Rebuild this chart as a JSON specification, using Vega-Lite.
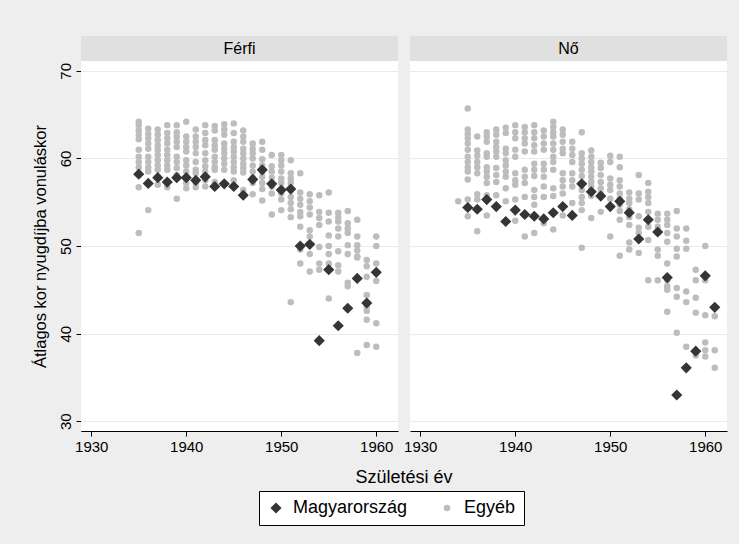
{
"$schema": "https://vega.github.io/schema/vega-lite/v6.json",
"background": "#eeeeee",
"padding": {"left": 32, "top": 36, "right": 12, "bottom": 18},
"config": {"font": "Liberation Sans", "view": {"stroke": null}},
"datasets": {
"hdr": [{"sex": "Férfi"}, {"sex": "Nő"}],
"pts": [
{"sex":"Férfi","group":"Egyéb","year":1935,"age":64.2},{"sex":"Férfi","group":"Egyéb","year":1935,"age":63.8},{"sex":"Férfi","group":"Egyéb","year":1935,"age":63.2},{"sex":"Férfi","group":"Egyéb","year":1935,"age":62.7},{"sex":"Férfi","group":"Egyéb","year":1935,"age":62.2},{"sex":"Férfi","group":"Egyéb","year":1935,"age":61.0},{"sex":"Férfi","group":"Egyéb","year":1935,"age":60.2},{"sex":"Férfi","group":"Egyéb","year":1935,"age":59.6},{"sex":"Férfi","group":"Egyéb","year":1935,"age":59.0},{"sex":"Férfi","group":"Egyéb","year":1935,"age":56.7},{"sex":"Férfi","group":"Egyéb","year":1935,"age":51.5},
{"sex":"Férfi","group":"Egyéb","year":1936,"age":63.4},{"sex":"Férfi","group":"Egyéb","year":1936,"age":62.8},{"sex":"Férfi","group":"Egyéb","year":1936,"age":62.3},{"sex":"Férfi","group":"Egyéb","year":1936,"age":61.7},{"sex":"Férfi","group":"Egyéb","year":1936,"age":61.1},{"sex":"Férfi","group":"Egyéb","year":1936,"age":60.2},{"sex":"Férfi","group":"Egyéb","year":1936,"age":59.6},{"sex":"Férfi","group":"Egyéb","year":1936,"age":59.0},{"sex":"Férfi","group":"Egyéb","year":1936,"age":58.5},{"sex":"Férfi","group":"Egyéb","year":1936,"age":54.1},
{"sex":"Férfi","group":"Egyéb","year":1937,"age":63.3},{"sex":"Férfi","group":"Egyéb","year":1937,"age":62.7},{"sex":"Férfi","group":"Egyéb","year":1937,"age":62.1},{"sex":"Férfi","group":"Egyéb","year":1937,"age":61.5},{"sex":"Férfi","group":"Egyéb","year":1937,"age":61.0},{"sex":"Férfi","group":"Egyéb","year":1937,"age":60.4},{"sex":"Férfi","group":"Egyéb","year":1937,"age":59.8},{"sex":"Férfi","group":"Egyéb","year":1937,"age":59.2},{"sex":"Férfi","group":"Egyéb","year":1937,"age":58.7},{"sex":"Férfi","group":"Egyéb","year":1937,"age":57.0},
{"sex":"Férfi","group":"Egyéb","year":1938,"age":63.8},{"sex":"Férfi","group":"Egyéb","year":1938,"age":62.9},{"sex":"Férfi","group":"Egyéb","year":1938,"age":62.3},{"sex":"Férfi","group":"Egyéb","year":1938,"age":61.7},{"sex":"Férfi","group":"Egyéb","year":1938,"age":61.0},{"sex":"Férfi","group":"Egyéb","year":1938,"age":60.4},{"sex":"Férfi","group":"Egyéb","year":1938,"age":59.8},{"sex":"Férfi","group":"Egyéb","year":1938,"age":59.2},{"sex":"Férfi","group":"Egyéb","year":1938,"age":58.7},{"sex":"Férfi","group":"Egyéb","year":1938,"age":56.7},
{"sex":"Férfi","group":"Egyéb","year":1939,"age":63.8},{"sex":"Férfi","group":"Egyéb","year":1939,"age":63.0},{"sex":"Férfi","group":"Egyéb","year":1939,"age":62.5},{"sex":"Férfi","group":"Egyéb","year":1939,"age":61.9},{"sex":"Férfi","group":"Egyéb","year":1939,"age":61.3},{"sex":"Férfi","group":"Egyéb","year":1939,"age":60.2},{"sex":"Férfi","group":"Egyéb","year":1939,"age":59.6},{"sex":"Férfi","group":"Egyéb","year":1939,"age":58.9},{"sex":"Férfi","group":"Egyéb","year":1939,"age":58.1},{"sex":"Férfi","group":"Egyéb","year":1939,"age":55.4},
{"sex":"Férfi","group":"Egyéb","year":1940,"age":64.2},{"sex":"Férfi","group":"Egyéb","year":1940,"age":62.5},{"sex":"Férfi","group":"Egyéb","year":1940,"age":61.9},{"sex":"Férfi","group":"Egyéb","year":1940,"age":61.3},{"sex":"Férfi","group":"Egyéb","year":1940,"age":60.8},{"sex":"Férfi","group":"Egyéb","year":1940,"age":59.8},{"sex":"Férfi","group":"Egyéb","year":1940,"age":59.2},{"sex":"Férfi","group":"Egyéb","year":1940,"age":58.5},{"sex":"Férfi","group":"Egyéb","year":1940,"age":57.2},{"sex":"Férfi","group":"Egyéb","year":1940,"age":56.6},
{"sex":"Férfi","group":"Egyéb","year":1941,"age":63.3},{"sex":"Férfi","group":"Egyéb","year":1941,"age":62.5},{"sex":"Férfi","group":"Egyéb","year":1941,"age":61.9},{"sex":"Férfi","group":"Egyéb","year":1941,"age":61.3},{"sex":"Férfi","group":"Egyéb","year":1941,"age":60.6},{"sex":"Férfi","group":"Egyéb","year":1941,"age":59.6},{"sex":"Férfi","group":"Egyéb","year":1941,"age":58.7},{"sex":"Férfi","group":"Egyéb","year":1941,"age":58.3},{"sex":"Férfi","group":"Egyéb","year":1941,"age":57.2},{"sex":"Férfi","group":"Egyéb","year":1941,"age":56.7},
{"sex":"Férfi","group":"Egyéb","year":1942,"age":63.8},{"sex":"Férfi","group":"Egyéb","year":1942,"age":62.9},{"sex":"Férfi","group":"Egyéb","year":1942,"age":62.1},{"sex":"Férfi","group":"Egyéb","year":1942,"age":61.5},{"sex":"Férfi","group":"Egyéb","year":1942,"age":60.6},{"sex":"Férfi","group":"Egyéb","year":1942,"age":59.8},{"sex":"Férfi","group":"Egyéb","year":1942,"age":59.1},{"sex":"Férfi","group":"Egyéb","year":1942,"age":58.5},{"sex":"Férfi","group":"Egyéb","year":1942,"age":57.5},{"sex":"Férfi","group":"Egyéb","year":1942,"age":56.8},
{"sex":"Férfi","group":"Egyéb","year":1943,"age":63.7},{"sex":"Férfi","group":"Egyéb","year":1943,"age":63.2},{"sex":"Férfi","group":"Egyéb","year":1943,"age":62.1},{"sex":"Férfi","group":"Egyéb","year":1943,"age":61.5},{"sex":"Férfi","group":"Egyéb","year":1943,"age":61.0},{"sex":"Férfi","group":"Egyéb","year":1943,"age":60.2},{"sex":"Férfi","group":"Egyéb","year":1943,"age":59.6},{"sex":"Férfi","group":"Egyéb","year":1943,"age":59.0},{"sex":"Férfi","group":"Egyéb","year":1943,"age":58.7},{"sex":"Férfi","group":"Egyéb","year":1943,"age":57.3},
{"sex":"Férfi","group":"Egyéb","year":1944,"age":63.9},{"sex":"Férfi","group":"Egyéb","year":1944,"age":63.3},{"sex":"Férfi","group":"Egyéb","year":1944,"age":62.7},{"sex":"Férfi","group":"Egyéb","year":1944,"age":61.7},{"sex":"Férfi","group":"Egyéb","year":1944,"age":61.1},{"sex":"Férfi","group":"Egyéb","year":1944,"age":60.6},{"sex":"Férfi","group":"Egyéb","year":1944,"age":60.0},{"sex":"Férfi","group":"Egyéb","year":1944,"age":59.4},{"sex":"Férfi","group":"Egyéb","year":1944,"age":58.7},
{"sex":"Férfi","group":"Egyéb","year":1945,"age":64.0},{"sex":"Férfi","group":"Egyéb","year":1945,"age":62.9},{"sex":"Férfi","group":"Egyéb","year":1945,"age":61.9},{"sex":"Férfi","group":"Egyéb","year":1945,"age":61.3},{"sex":"Férfi","group":"Egyéb","year":1945,"age":60.8},{"sex":"Férfi","group":"Egyéb","year":1945,"age":60.2},{"sex":"Férfi","group":"Egyéb","year":1945,"age":59.6},{"sex":"Férfi","group":"Egyéb","year":1945,"age":59.0},{"sex":"Férfi","group":"Egyéb","year":1945,"age":58.5},{"sex":"Férfi","group":"Egyéb","year":1945,"age":57.5},
{"sex":"Férfi","group":"Egyéb","year":1946,"age":63.2},{"sex":"Férfi","group":"Egyéb","year":1946,"age":62.5},{"sex":"Férfi","group":"Egyéb","year":1946,"age":61.9},{"sex":"Férfi","group":"Egyéb","year":1946,"age":61.1},{"sex":"Férfi","group":"Egyéb","year":1946,"age":60.6},{"sex":"Férfi","group":"Egyéb","year":1946,"age":60.0},{"sex":"Férfi","group":"Egyéb","year":1946,"age":59.4},{"sex":"Férfi","group":"Egyéb","year":1946,"age":58.9},{"sex":"Férfi","group":"Egyéb","year":1946,"age":58.4},{"sex":"Férfi","group":"Egyéb","year":1946,"age":56.4},
{"sex":"Férfi","group":"Egyéb","year":1947,"age":61.7},{"sex":"Férfi","group":"Egyéb","year":1947,"age":61.1},{"sex":"Férfi","group":"Egyéb","year":1947,"age":60.6},{"sex":"Férfi","group":"Egyéb","year":1947,"age":60.0},{"sex":"Férfi","group":"Egyéb","year":1947,"age":59.2},{"sex":"Férfi","group":"Egyéb","year":1947,"age":58.5},{"sex":"Férfi","group":"Egyéb","year":1947,"age":57.8},{"sex":"Férfi","group":"Egyéb","year":1947,"age":57.2},{"sex":"Férfi","group":"Egyéb","year":1947,"age":55.9},
{"sex":"Férfi","group":"Egyéb","year":1948,"age":61.9},{"sex":"Férfi","group":"Egyéb","year":1948,"age":61.0},{"sex":"Férfi","group":"Egyéb","year":1948,"age":59.9},{"sex":"Férfi","group":"Egyéb","year":1948,"age":59.2},{"sex":"Férfi","group":"Egyéb","year":1948,"age":58.5},{"sex":"Férfi","group":"Egyéb","year":1948,"age":57.9},{"sex":"Férfi","group":"Egyéb","year":1948,"age":57.2},{"sex":"Férfi","group":"Egyéb","year":1948,"age":56.5},{"sex":"Férfi","group":"Egyéb","year":1948,"age":55.2},
{"sex":"Férfi","group":"Egyéb","year":1949,"age":60.4},{"sex":"Férfi","group":"Egyéb","year":1949,"age":59.1},{"sex":"Férfi","group":"Egyéb","year":1949,"age":58.5},{"sex":"Férfi","group":"Egyéb","year":1949,"age":57.8},{"sex":"Férfi","group":"Egyéb","year":1949,"age":56.8},{"sex":"Férfi","group":"Egyéb","year":1949,"age":56.0},{"sex":"Férfi","group":"Egyéb","year":1949,"age":53.6},
{"sex":"Férfi","group":"Egyéb","year":1950,"age":60.4},{"sex":"Férfi","group":"Egyéb","year":1950,"age":59.8},{"sex":"Férfi","group":"Egyéb","year":1950,"age":59.2},{"sex":"Férfi","group":"Egyéb","year":1950,"age":58.5},{"sex":"Férfi","group":"Egyéb","year":1950,"age":57.7},{"sex":"Férfi","group":"Egyéb","year":1950,"age":57.2},{"sex":"Férfi","group":"Egyéb","year":1950,"age":56.0},{"sex":"Férfi","group":"Egyéb","year":1950,"age":55.3},{"sex":"Férfi","group":"Egyéb","year":1950,"age":54.1},
{"sex":"Férfi","group":"Egyéb","year":1951,"age":59.8},{"sex":"Férfi","group":"Egyéb","year":1951,"age":58.3},{"sex":"Férfi","group":"Egyéb","year":1951,"age":57.7},{"sex":"Férfi","group":"Egyéb","year":1951,"age":57.2},{"sex":"Férfi","group":"Egyéb","year":1951,"age":56.4},{"sex":"Férfi","group":"Egyéb","year":1951,"age":55.6},{"sex":"Férfi","group":"Egyéb","year":1951,"age":54.9},{"sex":"Férfi","group":"Egyéb","year":1951,"age":54.2},{"sex":"Férfi","group":"Egyéb","year":1951,"age":53.3},{"sex":"Férfi","group":"Egyéb","year":1951,"age":43.6},
{"sex":"Férfi","group":"Egyéb","year":1952,"age":58.3},{"sex":"Férfi","group":"Egyéb","year":1952,"age":56.1},{"sex":"Férfi","group":"Egyéb","year":1952,"age":55.4},{"sex":"Férfi","group":"Egyéb","year":1952,"age":54.7},{"sex":"Férfi","group":"Egyéb","year":1952,"age":53.9},{"sex":"Férfi","group":"Egyéb","year":1952,"age":53.4},{"sex":"Férfi","group":"Egyéb","year":1952,"age":52.2},{"sex":"Férfi","group":"Egyéb","year":1952,"age":49.6},{"sex":"Férfi","group":"Egyéb","year":1952,"age":48.0},
{"sex":"Férfi","group":"Egyéb","year":1953,"age":55.9},{"sex":"Férfi","group":"Egyéb","year":1953,"age":55.1},{"sex":"Férfi","group":"Egyéb","year":1953,"age":54.4},{"sex":"Férfi","group":"Egyéb","year":1953,"age":53.6},{"sex":"Férfi","group":"Egyéb","year":1953,"age":51.8},{"sex":"Férfi","group":"Egyéb","year":1953,"age":51.1},{"sex":"Férfi","group":"Egyéb","year":1953,"age":49.1},{"sex":"Férfi","group":"Egyéb","year":1953,"age":47.1},
{"sex":"Férfi","group":"Egyéb","year":1954,"age":55.8},{"sex":"Férfi","group":"Egyéb","year":1954,"age":53.9},{"sex":"Férfi","group":"Egyéb","year":1954,"age":53.2},{"sex":"Férfi","group":"Egyéb","year":1954,"age":52.4},{"sex":"Férfi","group":"Egyéb","year":1954,"age":49.9},{"sex":"Férfi","group":"Egyéb","year":1954,"age":48.0},{"sex":"Férfi","group":"Egyéb","year":1954,"age":47.3},
{"sex":"Férfi","group":"Egyéb","year":1955,"age":56.1},{"sex":"Férfi","group":"Egyéb","year":1955,"age":53.8},{"sex":"Férfi","group":"Egyéb","year":1955,"age":52.8},{"sex":"Férfi","group":"Egyéb","year":1955,"age":51.2},{"sex":"Férfi","group":"Egyéb","year":1955,"age":50.0},{"sex":"Férfi","group":"Egyéb","year":1955,"age":49.1},{"sex":"Férfi","group":"Egyéb","year":1955,"age":48.0},{"sex":"Férfi","group":"Egyéb","year":1955,"age":44.0},
{"sex":"Férfi","group":"Egyéb","year":1956,"age":53.8},{"sex":"Férfi","group":"Egyéb","year":1956,"age":53.3},{"sex":"Férfi","group":"Egyéb","year":1956,"age":52.8},{"sex":"Férfi","group":"Egyéb","year":1956,"age":52.0},{"sex":"Férfi","group":"Egyéb","year":1956,"age":51.1},{"sex":"Férfi","group":"Egyéb","year":1956,"age":49.4},{"sex":"Férfi","group":"Egyéb","year":1956,"age":47.8},{"sex":"Férfi","group":"Egyéb","year":1956,"age":47.1},
{"sex":"Férfi","group":"Egyéb","year":1957,"age":54.0},{"sex":"Férfi","group":"Egyéb","year":1957,"age":52.6},{"sex":"Férfi","group":"Egyéb","year":1957,"age":52.0},{"sex":"Férfi","group":"Egyéb","year":1957,"age":51.5},{"sex":"Férfi","group":"Egyéb","year":1957,"age":50.1},{"sex":"Férfi","group":"Egyéb","year":1957,"age":49.1},{"sex":"Férfi","group":"Egyéb","year":1957,"age":45.8},{"sex":"Férfi","group":"Egyéb","year":1957,"age":45.4},
{"sex":"Férfi","group":"Egyéb","year":1958,"age":53.0},{"sex":"Férfi","group":"Egyéb","year":1958,"age":51.1},{"sex":"Férfi","group":"Egyéb","year":1958,"age":50.1},{"sex":"Férfi","group":"Egyéb","year":1958,"age":49.5},{"sex":"Férfi","group":"Egyéb","year":1958,"age":48.8},{"sex":"Férfi","group":"Egyéb","year":1958,"age":48.7},{"sex":"Férfi","group":"Egyéb","year":1958,"age":46.3},{"sex":"Férfi","group":"Egyéb","year":1958,"age":37.8},
{"sex":"Férfi","group":"Egyéb","year":1959,"age":48.4},{"sex":"Férfi","group":"Egyéb","year":1959,"age":47.7},{"sex":"Férfi","group":"Egyéb","year":1959,"age":46.5},{"sex":"Férfi","group":"Egyéb","year":1959,"age":44.4},{"sex":"Férfi","group":"Egyéb","year":1959,"age":43.1},{"sex":"Férfi","group":"Egyéb","year":1959,"age":42.6},{"sex":"Férfi","group":"Egyéb","year":1959,"age":41.6},{"sex":"Férfi","group":"Egyéb","year":1959,"age":38.7},
{"sex":"Férfi","group":"Egyéb","year":1960,"age":51.1},{"sex":"Férfi","group":"Egyéb","year":1960,"age":50.0},{"sex":"Férfi","group":"Egyéb","year":1960,"age":48.0},{"sex":"Férfi","group":"Egyéb","year":1960,"age":46.0},{"sex":"Férfi","group":"Egyéb","year":1960,"age":41.2},{"sex":"Férfi","group":"Egyéb","year":1960,"age":38.5},
{"sex":"Nő","group":"Egyéb","year":1934,"age":55.1},
{"sex":"Nő","group":"Egyéb","year":1935,"age":65.7},{"sex":"Nő","group":"Egyéb","year":1935,"age":63.3},{"sex":"Nő","group":"Egyéb","year":1935,"age":62.8},{"sex":"Nő","group":"Egyéb","year":1935,"age":62.3},{"sex":"Nő","group":"Egyéb","year":1935,"age":61.7},{"sex":"Nő","group":"Egyéb","year":1935,"age":61.0},{"sex":"Nő","group":"Egyéb","year":1935,"age":60.2},{"sex":"Nő","group":"Egyéb","year":1935,"age":59.6},{"sex":"Nő","group":"Egyéb","year":1935,"age":59.0},{"sex":"Nő","group":"Egyéb","year":1935,"age":58.5},{"sex":"Nő","group":"Egyéb","year":1935,"age":57.6},{"sex":"Nő","group":"Egyéb","year":1935,"age":55.3},{"sex":"Nő","group":"Egyéb","year":1935,"age":53.4},
{"sex":"Nő","group":"Egyéb","year":1936,"age":62.5},{"sex":"Nő","group":"Egyéb","year":1936,"age":60.9},{"sex":"Nő","group":"Egyéb","year":1936,"age":60.3},{"sex":"Nő","group":"Egyéb","year":1936,"age":59.6},{"sex":"Nő","group":"Egyéb","year":1936,"age":59.0},{"sex":"Nő","group":"Egyéb","year":1936,"age":58.3},{"sex":"Nő","group":"Egyéb","year":1936,"age":55.9},{"sex":"Nő","group":"Egyéb","year":1936,"age":55.3},{"sex":"Nő","group":"Egyéb","year":1936,"age":51.7},
{"sex":"Nő","group":"Egyéb","year":1937,"age":63.0},{"sex":"Nő","group":"Egyéb","year":1937,"age":62.5},{"sex":"Nő","group":"Egyéb","year":1937,"age":61.9},{"sex":"Nő","group":"Egyéb","year":1937,"age":60.6},{"sex":"Nő","group":"Egyéb","year":1937,"age":60.2},{"sex":"Nő","group":"Egyéb","year":1937,"age":59.0},{"sex":"Nő","group":"Egyéb","year":1937,"age":58.5},{"sex":"Nő","group":"Egyéb","year":1937,"age":57.9},{"sex":"Nő","group":"Egyéb","year":1937,"age":57.2},{"sex":"Nő","group":"Egyéb","year":1937,"age":55.8},{"sex":"Nő","group":"Egyéb","year":1937,"age":53.5},
{"sex":"Nő","group":"Egyéb","year":1938,"age":63.3},{"sex":"Nő","group":"Egyéb","year":1938,"age":62.7},{"sex":"Nő","group":"Egyéb","year":1938,"age":61.9},{"sex":"Nő","group":"Egyéb","year":1938,"age":61.3},{"sex":"Nő","group":"Egyéb","year":1938,"age":60.8},{"sex":"Nő","group":"Egyéb","year":1938,"age":60.2},{"sex":"Nő","group":"Egyéb","year":1938,"age":58.9},{"sex":"Nő","group":"Egyéb","year":1938,"age":58.1},{"sex":"Nő","group":"Egyéb","year":1938,"age":57.3},{"sex":"Nő","group":"Egyéb","year":1938,"age":55.8},
{"sex":"Nő","group":"Egyéb","year":1939,"age":63.5},{"sex":"Nő","group":"Egyéb","year":1939,"age":62.9},{"sex":"Nő","group":"Egyéb","year":1939,"age":61.1},{"sex":"Nő","group":"Egyéb","year":1939,"age":60.6},{"sex":"Nő","group":"Egyéb","year":1939,"age":59.8},{"sex":"Nő","group":"Egyéb","year":1939,"age":59.2},{"sex":"Nő","group":"Egyéb","year":1939,"age":58.5},{"sex":"Nő","group":"Egyéb","year":1939,"age":57.9},{"sex":"Nő","group":"Egyéb","year":1939,"age":56.6},{"sex":"Nő","group":"Egyéb","year":1939,"age":55.1},
{"sex":"Nő","group":"Egyéb","year":1940,"age":63.8},{"sex":"Nő","group":"Egyéb","year":1940,"age":63.0},{"sex":"Nő","group":"Egyéb","year":1940,"age":62.3},{"sex":"Nő","group":"Egyéb","year":1940,"age":61.0},{"sex":"Nő","group":"Egyéb","year":1940,"age":60.2},{"sex":"Nő","group":"Egyéb","year":1940,"age":58.3},{"sex":"Nő","group":"Egyéb","year":1940,"age":57.5},{"sex":"Nő","group":"Egyéb","year":1940,"age":57.0},{"sex":"Nő","group":"Egyéb","year":1940,"age":55.3},{"sex":"Nő","group":"Egyéb","year":1940,"age":52.9},
{"sex":"Nő","group":"Egyéb","year":1941,"age":63.6},{"sex":"Nő","group":"Egyéb","year":1941,"age":63.0},{"sex":"Nő","group":"Egyéb","year":1941,"age":62.3},{"sex":"Nő","group":"Egyéb","year":1941,"age":61.7},{"sex":"Nő","group":"Egyéb","year":1941,"age":60.8},{"sex":"Nő","group":"Egyéb","year":1941,"age":58.7},{"sex":"Nő","group":"Egyéb","year":1941,"age":57.9},{"sex":"Nő","group":"Egyéb","year":1941,"age":57.2},{"sex":"Nő","group":"Egyéb","year":1941,"age":55.6},{"sex":"Nő","group":"Egyéb","year":1941,"age":51.1},
{"sex":"Nő","group":"Egyéb","year":1942,"age":63.8},{"sex":"Nő","group":"Egyéb","year":1942,"age":63.0},{"sex":"Nő","group":"Egyéb","year":1942,"age":62.3},{"sex":"Nő","group":"Egyéb","year":1942,"age":61.5},{"sex":"Nő","group":"Egyéb","year":1942,"age":60.8},{"sex":"Nő","group":"Egyéb","year":1942,"age":59.4},{"sex":"Nő","group":"Egyéb","year":1942,"age":58.7},{"sex":"Nő","group":"Egyéb","year":1942,"age":58.0},{"sex":"Nő","group":"Egyéb","year":1942,"age":56.4},{"sex":"Nő","group":"Egyéb","year":1942,"age":55.6},{"sex":"Nő","group":"Egyéb","year":1942,"age":54.7},{"sex":"Nő","group":"Egyéb","year":1942,"age":51.5},
{"sex":"Nő","group":"Egyéb","year":1943,"age":63.2},{"sex":"Nő","group":"Egyéb","year":1943,"age":62.5},{"sex":"Nő","group":"Egyéb","year":1943,"age":61.7},{"sex":"Nő","group":"Egyéb","year":1943,"age":61.0},{"sex":"Nő","group":"Egyéb","year":1943,"age":59.4},{"sex":"Nő","group":"Egyéb","year":1943,"age":58.7},{"sex":"Nő","group":"Egyéb","year":1943,"age":57.9},{"sex":"Nő","group":"Egyéb","year":1943,"age":56.8},{"sex":"Nő","group":"Egyéb","year":1943,"age":55.6},{"sex":"Nő","group":"Egyéb","year":1943,"age":52.6},
{"sex":"Nő","group":"Egyéb","year":1944,"age":64.2},{"sex":"Nő","group":"Egyéb","year":1944,"age":63.6},{"sex":"Nő","group":"Egyéb","year":1944,"age":63.0},{"sex":"Nő","group":"Egyéb","year":1944,"age":62.5},{"sex":"Nő","group":"Egyéb","year":1944,"age":61.7},{"sex":"Nő","group":"Egyéb","year":1944,"age":61.0},{"sex":"Nő","group":"Egyéb","year":1944,"age":60.2},{"sex":"Nő","group":"Egyéb","year":1944,"age":59.6},{"sex":"Nő","group":"Egyéb","year":1944,"age":58.7},{"sex":"Nő","group":"Egyéb","year":1944,"age":56.6},{"sex":"Nő","group":"Egyéb","year":1944,"age":55.7},{"sex":"Nő","group":"Egyéb","year":1944,"age":51.9},
{"sex":"Nő","group":"Egyéb","year":1945,"age":63.3},{"sex":"Nő","group":"Egyéb","year":1945,"age":62.7},{"sex":"Nő","group":"Egyéb","year":1945,"age":61.9},{"sex":"Nő","group":"Egyéb","year":1945,"age":61.1},{"sex":"Nő","group":"Egyéb","year":1945,"age":60.6},{"sex":"Nő","group":"Egyéb","year":1945,"age":58.3},{"sex":"Nő","group":"Egyéb","year":1945,"age":57.5},{"sex":"Nő","group":"Egyéb","year":1945,"age":56.8},{"sex":"Nő","group":"Egyéb","year":1945,"age":56.0},{"sex":"Nő","group":"Egyéb","year":1945,"age":53.5},
{"sex":"Nő","group":"Egyéb","year":1946,"age":61.9},{"sex":"Nő","group":"Egyéb","year":1946,"age":61.1},{"sex":"Nő","group":"Egyéb","year":1946,"age":60.4},{"sex":"Nő","group":"Egyéb","year":1946,"age":59.6},{"sex":"Nő","group":"Egyéb","year":1946,"age":58.3},{"sex":"Nő","group":"Egyéb","year":1946,"age":57.5},{"sex":"Nő","group":"Egyéb","year":1946,"age":56.8},{"sex":"Nő","group":"Egyéb","year":1946,"age":54.9},
{"sex":"Nő","group":"Egyéb","year":1947,"age":63.0},{"sex":"Nő","group":"Egyéb","year":1947,"age":60.6},{"sex":"Nő","group":"Egyéb","year":1947,"age":60.0},{"sex":"Nő","group":"Egyéb","year":1947,"age":59.4},{"sex":"Nő","group":"Egyéb","year":1947,"age":58.7},{"sex":"Nő","group":"Egyéb","year":1947,"age":58.0},{"sex":"Nő","group":"Egyéb","year":1947,"age":56.4},{"sex":"Nő","group":"Egyéb","year":1947,"age":55.6},{"sex":"Nő","group":"Egyéb","year":1947,"age":54.9},{"sex":"Nő","group":"Egyéb","year":1947,"age":54.1},{"sex":"Nő","group":"Egyéb","year":1947,"age":49.8},
{"sex":"Nő","group":"Egyéb","year":1948,"age":60.9},{"sex":"Nő","group":"Egyéb","year":1948,"age":60.2},{"sex":"Nő","group":"Egyéb","year":1948,"age":59.6},{"sex":"Nő","group":"Egyéb","year":1948,"age":59.0},{"sex":"Nő","group":"Egyéb","year":1948,"age":58.5},{"sex":"Nő","group":"Egyéb","year":1948,"age":57.9},{"sex":"Nő","group":"Egyéb","year":1948,"age":57.3},{"sex":"Nő","group":"Egyéb","year":1948,"age":56.8},{"sex":"Nő","group":"Egyéb","year":1948,"age":55.7},{"sex":"Nő","group":"Egyéb","year":1948,"age":53.2},
{"sex":"Nő","group":"Egyéb","year":1949,"age":59.5},{"sex":"Nő","group":"Egyéb","year":1949,"age":58.9},{"sex":"Nő","group":"Egyéb","year":1949,"age":58.1},{"sex":"Nő","group":"Egyéb","year":1949,"age":57.3},{"sex":"Nő","group":"Egyéb","year":1949,"age":56.6},{"sex":"Nő","group":"Egyéb","year":1949,"age":56.0},{"sex":"Nő","group":"Egyéb","year":1949,"age":53.9},
{"sex":"Nő","group":"Egyéb","year":1950,"age":60.3},{"sex":"Nő","group":"Egyéb","year":1950,"age":59.6},{"sex":"Nő","group":"Egyéb","year":1950,"age":57.7},{"sex":"Nő","group":"Egyéb","year":1950,"age":57.0},{"sex":"Nő","group":"Egyéb","year":1950,"age":56.4},{"sex":"Nő","group":"Egyéb","year":1950,"age":55.4},{"sex":"Nő","group":"Egyéb","year":1950,"age":51.1},
{"sex":"Nő","group":"Egyéb","year":1951,"age":60.2},{"sex":"Nő","group":"Egyéb","year":1951,"age":59.0},{"sex":"Nő","group":"Egyéb","year":1951,"age":57.5},{"sex":"Nő","group":"Egyéb","year":1951,"age":56.8},{"sex":"Nő","group":"Egyéb","year":1951,"age":56.0},{"sex":"Nő","group":"Egyéb","year":1951,"age":55.4},{"sex":"Nő","group":"Egyéb","year":1951,"age":54.7},{"sex":"Nő","group":"Egyéb","year":1951,"age":54.0},{"sex":"Nő","group":"Egyéb","year":1951,"age":53.0},{"sex":"Nő","group":"Egyéb","year":1951,"age":48.9},
{"sex":"Nő","group":"Egyéb","year":1952,"age":56.1},{"sex":"Nő","group":"Egyéb","year":1952,"age":55.4},{"sex":"Nő","group":"Egyéb","year":1952,"age":54.9},{"sex":"Nő","group":"Egyéb","year":1952,"age":54.2},{"sex":"Nő","group":"Egyéb","year":1952,"age":53.3},{"sex":"Nő","group":"Egyéb","year":1952,"age":52.4},{"sex":"Nő","group":"Egyéb","year":1952,"age":50.4},{"sex":"Nő","group":"Egyéb","year":1952,"age":49.6},
{"sex":"Nő","group":"Egyéb","year":1953,"age":58.1},{"sex":"Nő","group":"Egyéb","year":1953,"age":56.0},{"sex":"Nő","group":"Egyéb","year":1953,"age":55.3},{"sex":"Nő","group":"Egyéb","year":1953,"age":53.4},{"sex":"Nő","group":"Egyéb","year":1953,"age":52.1},{"sex":"Nő","group":"Egyéb","year":1953,"age":51.5},{"sex":"Nő","group":"Egyéb","year":1953,"age":49.2},
{"sex":"Nő","group":"Egyéb","year":1954,"age":57.2},{"sex":"Nő","group":"Egyéb","year":1954,"age":56.2},{"sex":"Nő","group":"Egyéb","year":1954,"age":55.6},{"sex":"Nő","group":"Egyéb","year":1954,"age":54.9},{"sex":"Nő","group":"Egyéb","year":1954,"age":53.9},{"sex":"Nő","group":"Egyéb","year":1954,"age":52.2},{"sex":"Nő","group":"Egyéb","year":1954,"age":50.7},{"sex":"Nő","group":"Egyéb","year":1954,"age":46.1},
{"sex":"Nő","group":"Egyéb","year":1955,"age":53.7},{"sex":"Nő","group":"Egyéb","year":1955,"age":53.0},{"sex":"Nő","group":"Egyéb","year":1955,"age":52.2},{"sex":"Nő","group":"Egyéb","year":1955,"age":51.5},{"sex":"Nő","group":"Egyéb","year":1955,"age":49.6},{"sex":"Nő","group":"Egyéb","year":1955,"age":48.9},{"sex":"Nő","group":"Egyéb","year":1955,"age":46.1},
{"sex":"Nő","group":"Egyéb","year":1956,"age":53.7},{"sex":"Nő","group":"Egyéb","year":1956,"age":53.0},{"sex":"Nő","group":"Egyéb","year":1956,"age":52.4},{"sex":"Nő","group":"Egyéb","year":1956,"age":51.5},{"sex":"Nő","group":"Egyéb","year":1956,"age":50.5},{"sex":"Nő","group":"Egyéb","year":1956,"age":48.0},{"sex":"Nő","group":"Egyéb","year":1956,"age":46.1},{"sex":"Nő","group":"Egyéb","year":1956,"age":45.4},{"sex":"Nő","group":"Egyéb","year":1956,"age":45.0},{"sex":"Nő","group":"Egyéb","year":1956,"age":42.5},
{"sex":"Nő","group":"Egyéb","year":1957,"age":54.0},{"sex":"Nő","group":"Egyéb","year":1957,"age":52.0},{"sex":"Nő","group":"Egyéb","year":1957,"age":51.1},{"sex":"Nő","group":"Egyéb","year":1957,"age":49.7},{"sex":"Nő","group":"Egyéb","year":1957,"age":48.8},{"sex":"Nő","group":"Egyéb","year":1957,"age":45.2},{"sex":"Nő","group":"Egyéb","year":1957,"age":44.2},{"sex":"Nő","group":"Egyéb","year":1957,"age":40.1},
{"sex":"Nő","group":"Egyéb","year":1958,"age":52.0},{"sex":"Nő","group":"Egyéb","year":1958,"age":50.6},{"sex":"Nő","group":"Egyéb","year":1958,"age":49.7},{"sex":"Nő","group":"Egyéb","year":1958,"age":44.8},{"sex":"Nő","group":"Egyéb","year":1958,"age":43.6},{"sex":"Nő","group":"Egyéb","year":1958,"age":38.5},
{"sex":"Nő","group":"Egyéb","year":1959,"age":47.3},{"sex":"Nő","group":"Egyéb","year":1959,"age":46.1},{"sex":"Nő","group":"Egyéb","year":1959,"age":44.1},{"sex":"Nő","group":"Egyéb","year":1959,"age":42.4},{"sex":"Nő","group":"Egyéb","year":1959,"age":37.5},
{"sex":"Nő","group":"Egyéb","year":1960,"age":50.0},{"sex":"Nő","group":"Egyéb","year":1960,"age":46.1},{"sex":"Nő","group":"Egyéb","year":1960,"age":42.1},{"sex":"Nő","group":"Egyéb","year":1960,"age":39.0},{"sex":"Nő","group":"Egyéb","year":1960,"age":38.1},{"sex":"Nő","group":"Egyéb","year":1960,"age":37.4},
{"sex":"Nő","group":"Egyéb","year":1961,"age":42.0},{"sex":"Nő","group":"Egyéb","year":1961,"age":38.1},{"sex":"Nő","group":"Egyéb","year":1961,"age":36.1},
{"sex":"Férfi","group":"Magyarország","year":1935,"age":58.2},{"sex":"Férfi","group":"Magyarország","year":1936,"age":57.15},{"sex":"Férfi","group":"Magyarország","year":1937,"age":57.8},{"sex":"Férfi","group":"Magyarország","year":1938,"age":57.3},{"sex":"Férfi","group":"Magyarország","year":1939,"age":57.8},{"sex":"Férfi","group":"Magyarország","year":1940,"age":57.8},{"sex":"Férfi","group":"Magyarország","year":1941,"age":57.5},{"sex":"Férfi","group":"Magyarország","year":1942,"age":57.9},{"sex":"Férfi","group":"Magyarország","year":1943,"age":56.8},{"sex":"Férfi","group":"Magyarország","year":1944,"age":57.1},{"sex":"Férfi","group":"Magyarország","year":1945,"age":56.8},{"sex":"Férfi","group":"Magyarország","year":1946,"age":55.8},{"sex":"Férfi","group":"Magyarország","year":1947,"age":57.6},{"sex":"Férfi","group":"Magyarország","year":1948,"age":58.7},{"sex":"Férfi","group":"Magyarország","year":1949,"age":57.1},{"sex":"Férfi","group":"Magyarország","year":1950,"age":56.4},{"sex":"Férfi","group":"Magyarország","year":1951,"age":56.5},{"sex":"Férfi","group":"Magyarország","year":1952,"age":50.0},{"sex":"Férfi","group":"Magyarország","year":1953,"age":50.2},{"sex":"Férfi","group":"Magyarország","year":1954,"age":39.2},{"sex":"Férfi","group":"Magyarország","year":1955,"age":47.3},{"sex":"Férfi","group":"Magyarország","year":1956,"age":40.9},{"sex":"Férfi","group":"Magyarország","year":1957,"age":42.9},{"sex":"Férfi","group":"Magyarország","year":1958,"age":46.3},{"sex":"Férfi","group":"Magyarország","year":1959,"age":43.5},{"sex":"Férfi","group":"Magyarország","year":1960,"age":47.0},
{"sex":"Nő","group":"Magyarország","year":1935,"age":54.4},{"sex":"Nő","group":"Magyarország","year":1936,"age":54.2},{"sex":"Nő","group":"Magyarország","year":1937,"age":55.3},{"sex":"Nő","group":"Magyarország","year":1938,"age":54.5},{"sex":"Nő","group":"Magyarország","year":1939,"age":52.8},{"sex":"Nő","group":"Magyarország","year":1940,"age":54.1},{"sex":"Nő","group":"Magyarország","year":1941,"age":53.6},{"sex":"Nő","group":"Magyarország","year":1942,"age":53.4},{"sex":"Nő","group":"Magyarország","year":1943,"age":53.1},{"sex":"Nő","group":"Magyarország","year":1944,"age":53.8},{"sex":"Nő","group":"Magyarország","year":1945,"age":54.5},{"sex":"Nő","group":"Magyarország","year":1946,"age":53.5},{"sex":"Nő","group":"Magyarország","year":1947,"age":57.1},{"sex":"Nő","group":"Magyarország","year":1948,"age":56.2},{"sex":"Nő","group":"Magyarország","year":1949,"age":55.7},{"sex":"Nő","group":"Magyarország","year":1950,"age":54.5},{"sex":"Nő","group":"Magyarország","year":1951,"age":55.1},{"sex":"Nő","group":"Magyarország","year":1952,"age":53.8},{"sex":"Nő","group":"Magyarország","year":1953,"age":50.8},{"sex":"Nő","group":"Magyarország","year":1954,"age":53.0},{"sex":"Nő","group":"Magyarország","year":1955,"age":51.6},{"sex":"Nő","group":"Magyarország","year":1956,"age":46.4},{"sex":"Nő","group":"Magyarország","year":1957,"age":33.0},{"sex":"Nő","group":"Magyarország","year":1958,"age":36.1},{"sex":"Nő","group":"Magyarország","year":1959,"age":38.0},{"sex":"Nő","group":"Magyarország","year":1960,"age":46.6},{"sex":"Nő","group":"Magyarország","year":1961,"age":43.0}
]},
"spacing": 0,
"vconcat": [
{
"data": {"name": "hdr"},
"facet": {"column": {"field": "sex", "type": "nominal", "sort": ["Férfi", "Nő"], "header": null}},
"spacing": 12,
"spec": {
"width": 317, "height": 25,
"view": {"fill": "#e0e0e0", "stroke": null},
"mark": {"type": "text", "fontSize": 16, "color": "#000000", "font": "Liberation Sans"},
"encoding": {"text": {"field": "sex", "type": "nominal"}}
}
},
{
"data": {"name": "pts"},
"facet": {"column": {"field": "sex", "type": "nominal", "sort": ["Férfi", "Nő"], "title": "Születési év",
"header": {"labels": false, "titleOrient": "bottom", "titleFontSize": 18, "titleFontWeight": "normal", "titleColor": "#000000", "titlePadding": 5, "titleFont": "Liberation Sans"}}},
"spacing": 12,
"spec": {
"width": 317, "height": 370,
"view": {"fill": "#ffffff", "stroke": null},
"mark": {"type": "point", "filled": true, "opacity": 1, "strokeWidth": 0},
"encoding": {
"x": {"field": "year", "type": "quantitative",
"scale": {"domain": [1928.92, 1962.29], "nice": false, "zero": false},
"axis": {"values": [1930, 1940, 1950, 1960], "format": "d", "title": null, "grid": false, "domainColor": "#000000", "tickColor": "#000000", "tickSize": 5, "labelFontSize": 15, "labelColor": "#000000", "labelPadding": 3, "labelFont": "Liberation Sans"}},
"y": {"field": "age", "type": "quantitative",
"scale": {"domain": [28.89, 71.12], "nice": false, "zero": false},
"axis": {"values": [30, 40, 50, 60, 70], "title": "Átlagos kor nyugdíjba vonuláskor", "grid": true, "gridColor": "#eaeaea", "gridWidth": 1, "domainColor": "#000000", "tickColor": "#000000", "tickSize": 5, "labelAngle": -90, "labelAlign": "center", "labelBaseline": "bottom", "labelFontSize": 15, "labelColor": "#000000", "labelPadding": 3, "labelFont": "Liberation Sans", "titleFontSize": 16.5, "titleFontWeight": "normal", "titleColor": "#000000", "titlePadding": 10, "titleFont": "Liberation Sans"}},
"color": {"field": "group", "type": "nominal", "scale": {"domain": ["Magyarország", "Egyéb"], "range": ["#353535", "#bdbdbd"]},
"legend": {"title": null, "orient": "none", "legendX": 178, "legendY": 455, "direction": "horizontal", "fillColor": "#ffffff", "strokeColor": "#000000", "padding": 8, "labelFontSize": 18, "labelColor": "#000000", "labelFont": "Liberation Sans", "symbolSize": 70, "columnPadding": 30, "labelOffset": 8}},
"shape": {"field": "group", "type": "nominal", "scale": {"domain": ["Magyarország", "Egyéb"], "range": ["diamond", "circle"]}},
"size": {"field": "group", "type": "nominal", "scale": {"domain": ["Magyarország", "Egyéb"], "range": [125, 42]}, "legend": null}
}
}
}
]
}
